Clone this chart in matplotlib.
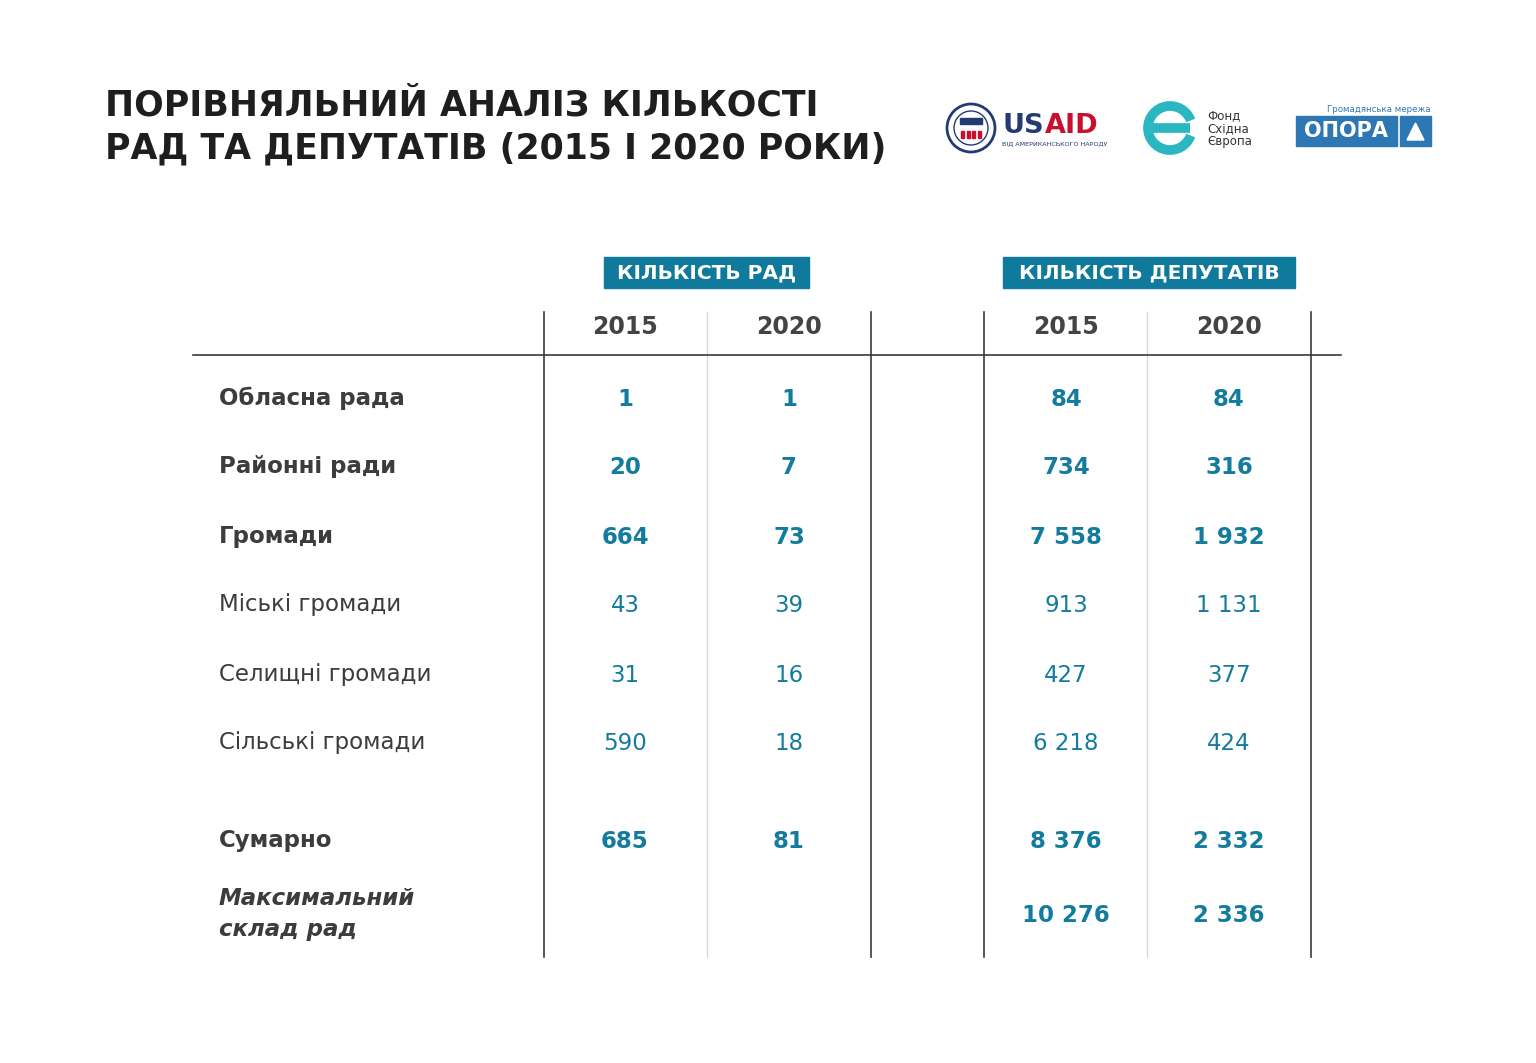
import numpy as np
import matplotlib
matplotlib.use('Agg')
from matplotlib import pyplot as plt
from matplotlib.patches import Rectangle, Circle, Arc, Polygon

row_labels = ['Обласна рада', 'Районні ради', 'Громади', 'Міські громади',
              'Селищні громади', 'Сільські громади', 'Сумарно', 'Максимальний\nсклад рад']
rady_2015 = [1, 20, 664, 43, 31, 590, 685, None]
rady_2020 = [1, 7, 73, 39, 16, 18, 81, None]
dep_2015 = [84, 734, 7558, 913, 427, 6218, 8376, 10276]
dep_2020 = [84, 316, 1932, 1131, 377, 424, 2332, 2336]
years = ['2015', '2020']
groups = ['КІЛЬКІСТЬ РАД', 'КІЛЬКІСТЬ ДЕПУТАТІВ']
title = 'ПОРІВНЯЛЬНИЙ АНАЛІЗ КІЛЬКОСТІ\nРАД ТА ДЕПУТАТІВ (2015 І 2020 РОКИ)'

TEAL = '#0f7a9b'
VAL = '#137c9e'
LABEL = '#3c3c3c'

plt.rcParams['font.family'] = ['DejaVu Sans']

fig = plt.figure(figsize=(15.36, 10.63), dpi=100)
ax = fig.add_axes([0, 0, 1, 1])
ax.set_xlim(0, 1536)
ax.set_ylim(1063, 0)
ax.axis('off')

# title
ax.text(105, 127, title, fontsize=25, fontweight='bold', color='#1e1e1e',
        va='center', ha='left', linespacing=1.35)

# --- logos (rough) ---
ax.add_patch(Circle((971, 128), 24, facecolor='white', edgecolor='#233a73', lw=2))
ax.add_patch(Circle((971, 128), 17, facecolor='white', edgecolor='#233a73', lw=1))
ax.add_patch(Rectangle((960, 118), 22, 6, color='#233a73'))
for k in range(4):
    ax.add_patch(Rectangle((961 + k * 5.5, 131), 3, 7, color='#c8102e'))
ax.text(1044, 126, 'US', fontsize=19.5, fontweight='bold', color='#233a73', va='center', ha='right')
ax.text(1045, 126, 'AID', fontsize=19.5, fontweight='bold', color='#c8102e', va='center', ha='left')
ax.text(1002, 144, 'ВІД АМЕРИКАНСЬКОГО НАРОДУ', fontsize=4.6, color='#233a73', va='center', ha='left')

ax.add_patch(Arc((1170, 128), 44, 44, theta1=20, theta2=340, color='#2ab7c1', lw=7))
ax.plot([1150, 1190], [128, 128], color='#2ab7c1', lw=7, solid_capstyle='butt')
for k, w in enumerate(['Фонд', 'Східна', 'Європа']):
    ax.text(1207, 116 + k * 13, w, fontsize=8.5, color='#333333', va='center', ha='left')

ax.text(1431, 110, 'Громадянська мережа', fontsize=6.2, color='#2d77b4', va='center', ha='right')
ax.add_patch(Rectangle((1296, 116), 101, 30, color='#2d77b4'))
ax.add_patch(Rectangle((1400, 116), 31, 30, color='#2d77b4'))
ax.text(1346, 131, 'ОПОРА', fontsize=15, fontweight='bold', color='white', va='center', ha='center')
ax.add_patch(Polygon([[1407, 140], [1424, 140], [1415.5, 123]], color='white'))

# --- table ---
col_x = [625, 789, 1066, 1229]
row_y = [398, 467, 536, 605, 674, 743, 840, 914]
row_style = ['bold', 'bold', 'bold', 'normal', 'normal', 'normal', 'bold', 'bolditalic']

# group header boxes
for (x0, x1), g in zip([(604, 809), (1003, 1295)], groups):
    ax.add_patch(Rectangle((x0, 257), x1 - x0, 31, color=TEAL))
    ax.text((x0 + x1) / 2, 273, g, fontsize=14.5, fontweight='bold', color='white',
            va='center', ha='center')

# grid lines
for x in [544, 871, 984, 1311]:
    ax.plot([x, x], [312, 957], color='#3a3a3a', lw=1.2)
for x in [707, 1147]:
    ax.plot([x, x], [312, 957], color='#d9d9d9', lw=1.0)
ax.plot([193, 1341], [355, 355], color='#3a3a3a', lw=1.2)

for x, yr in zip(col_x, years * 2):
    ax.text(x, 327, yr, fontsize=17, fontweight='bold', color='#444444', va='center', ha='center')


def fmt(v):
    if v is None:
        return ''
    return f'{v:,}'.replace(',', ' ')


for i, lab in enumerate(row_labels):
    st = row_style[i]
    weight = 'bold' if 'bold' in st else 'normal'
    style = 'italic' if 'italic' in st else 'normal'
    ax.text(219, row_y[i], lab, fontsize=16.5, fontweight=weight, fontstyle=style,
            color=LABEL, va='center', ha='left', linespacing=1.45)
    vals = [rady_2015[i], rady_2020[i], dep_2015[i], dep_2020[i]]
    for x, v in zip(col_x, vals):
        ax.text(x, row_y[i] + 1, fmt(v), fontsize=16.5, fontweight=weight,
                color=VAL, va='center', ha='center')

plt.savefig('out.png', dpi=100, facecolor='white')
